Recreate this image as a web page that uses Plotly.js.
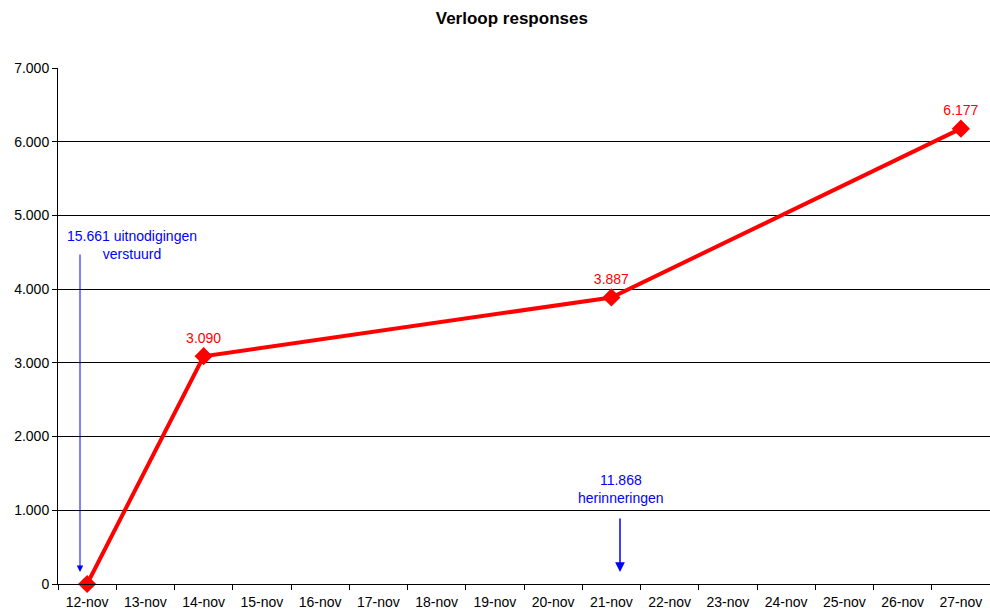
<!DOCTYPE html>
<html>
<head>
<meta charset="utf-8">
<script src="https://cdn.plot.ly/plotly-3.0.1.min.js"></script>
<style>html,body{margin:0;padding:0;background:#fff;}#chart{width:990px;height:613px;}</style>
</head>
<body>
<div id="chart"></div>
<script>
var categories = ['12-nov','13-nov','14-nov','15-nov','16-nov','17-nov','18-nov','19-nov','20-nov','21-nov','22-nov','23-nov','24-nov','25-nov','26-nov','27-nov'];
var pointDates = ['12-nov','14-nov','21-nov','27-nov'];
var responses = [0, 3090, 3887, 6177];
var pointLabels = ['', '3.090', '3.887', '6.177'];
var yTicks = [0,1000,2000,3000,4000,5000,6000,7000];
var yTickLabels = ['0','1.000','2.000','3.000','4.000','5.000','6.000','7.000'];
var note1 = '15.661 uitnodigingen<br>verstuurd';
var note2 = '11.868<br>herinneringen';

var font = 'Arial, "Liberation Sans", sans-serif';

var trace = {
  x: pointDates,
  y: responses,
  type: 'scatter',
  mode: 'lines+markers+text',
  text: pointLabels,
  textposition: 'top center',
  textfont: {family: font, size: 14, color: '#ff0000'},
  line: {color: '#ff0000', width: 4},
  marker: {symbol: 'diamond', size: 14, color: '#ff0000'},
  cliponaxis: false,
  hoverinfo: 'none'
};

var layout = {
  width: 990, height: 613,
  margin: {l: 58, r: 0, t: 68, b: 29},
  paper_bgcolor: '#fff', plot_bgcolor: '#fff',
  showlegend: false,
  separators: ',.',
  title: {text: '<b>Verloop responses</b>', font: {family: font, size: 17, color: '#000'}, xref: 'container', x: 0.517, xanchor: 'center', yref: 'container', y: 0.97, yanchor: 'middle'},
  xaxis: {
    type: 'category', categoryorder: 'array', categoryarray: categories,
    tickvals: categories, ticktext: categories,
    range: [-0.5, categories.length - 0.5],
    tickson: 'boundaries', ticks: 'outside', ticklen: 5, tickcolor: '#000', tickwidth: 1,
    ticklabelstandoff: 5,
    showline: true, linecolor: '#000', linewidth: 1,
    showgrid: false, zeroline: false,
    tickfont: {family: font, size: 14, color: '#000'}, fixedrange: true
  },
  yaxis: {
    range: [0, 7000], tickvals: yTicks, ticktext: yTickLabels,
    ticks: 'outside', ticklen: 5, tickcolor: '#000', tickwidth: 1,
    showline: true, linecolor: '#000', linewidth: 1,
    showgrid: true, gridcolor: '#000', gridwidth: 1, zeroline: false,
    tickfont: {family: font, size: 14, color: '#000'}, fixedrange: true
  },
  annotations: [
    {xref: 'paper', yref: 'paper', x: (132-58)/932, y: (584-245)/516, text: note1, showarrow: false,
     font: {family: font, size: 14, color: '#0000ff'}, align: 'center', xanchor: 'center', yanchor: 'middle'},
    {xref: 'paper', yref: 'paper', x: (80-58)/932, y: (584-572)/516, ax: (80-58)/932, ay: (584-253)/516,
     axref: 'paper', ayref: 'paper', text: '', showarrow: true, arrowhead: 2, arrowsize: 1.3, arrowwidth: 1, arrowcolor: '#0000ff'},
    {xref: 'paper', yref: 'paper', x: (621-58)/932, y: (584-489)/516, text: note2, showarrow: false,
     font: {family: font, size: 14, color: '#0000ff'}, align: 'center', xanchor: 'center', yanchor: 'middle'},
    {xref: 'paper', yref: 'paper', x: (620-58)/932, y: (584-572)/516, ax: (620-58)/932, ay: (584-517)/516,
     axref: 'paper', ayref: 'paper', text: '', showarrow: true, arrowhead: 2, arrowsize: 1.3, arrowwidth: 1.5, arrowcolor: '#0000ff'}
  ]
};

Plotly.newPlot('chart', [trace], layout, {displayModeBar: false, staticPlot: true});
</script>
</body>
</html>
